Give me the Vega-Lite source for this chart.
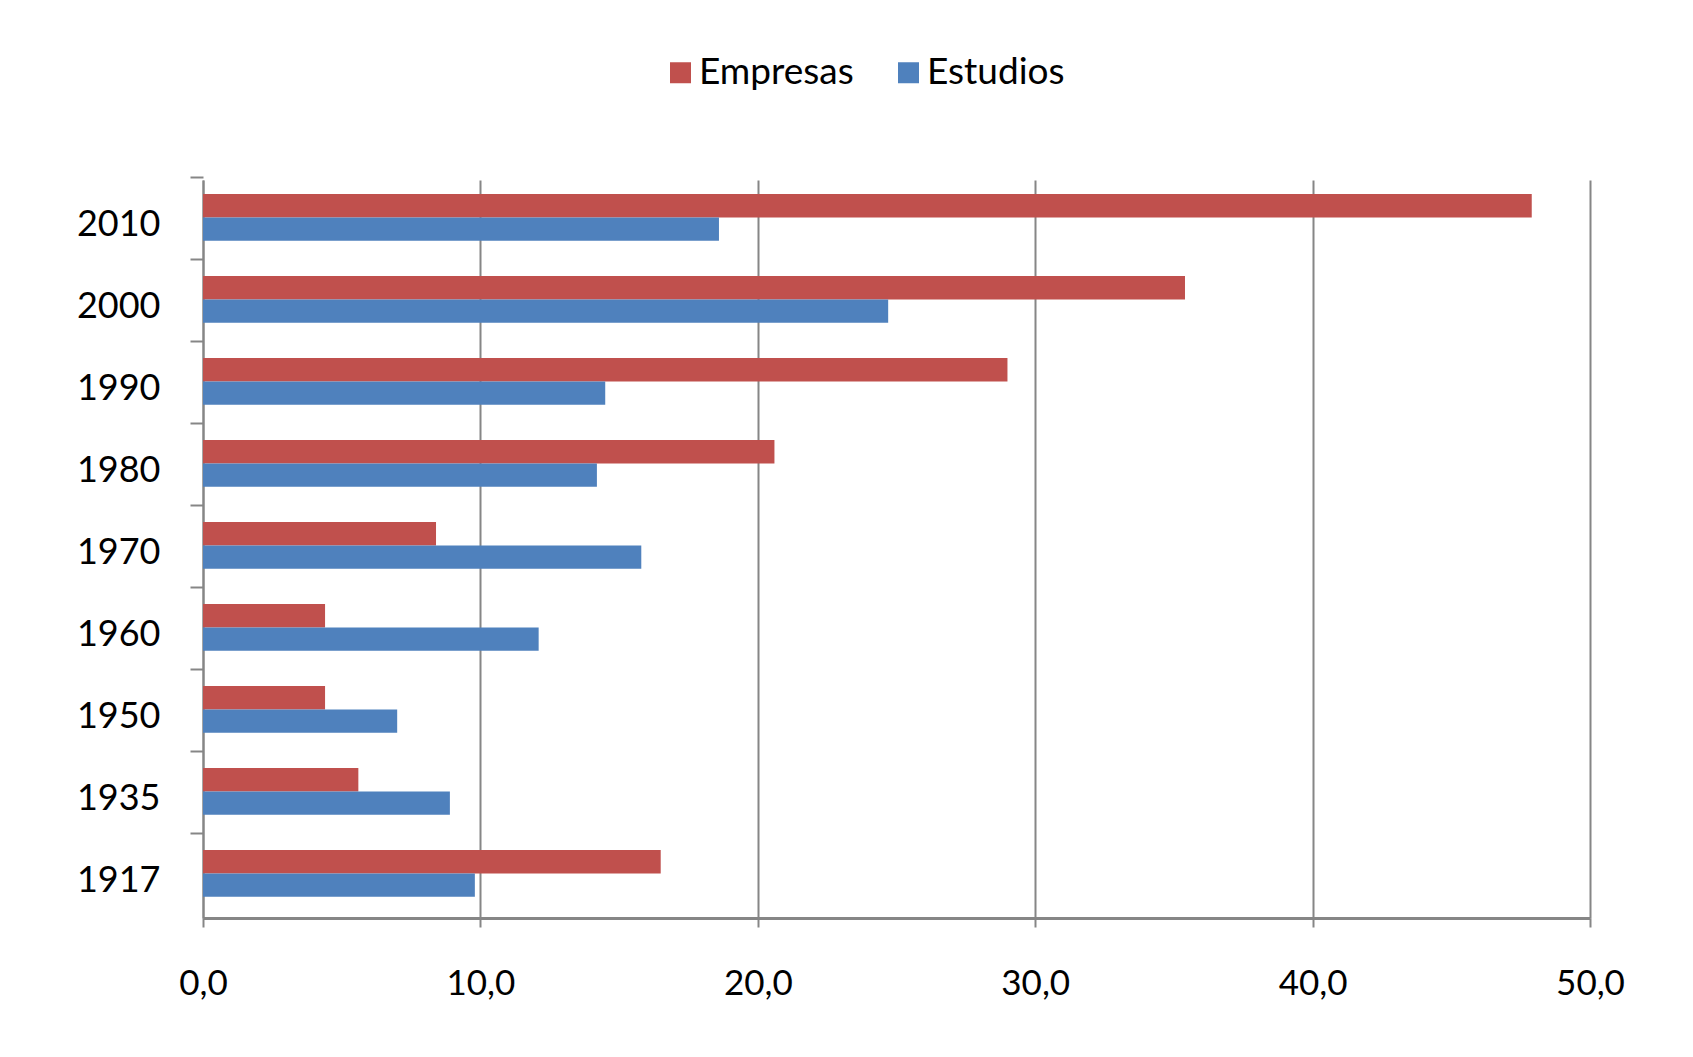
{
  "$schema": "https://vega.github.io/schema/vega-lite/v6.json",
  "autosize": {"type": "none"},
  "width": 1387,
  "height": 738,
  "padding": {"left": 203, "top": 180, "right": 103, "bottom": 139},
  "background": "white",
  "data": {"values": [
    {"year": "2010", "serie": "Empresas", "valor": 47.9},
    {"year": "2010", "serie": "Estudios", "valor": 18.6},
    {"year": "2000", "serie": "Empresas", "valor": 35.4},
    {"year": "2000", "serie": "Estudios", "valor": 24.7},
    {"year": "1990", "serie": "Empresas", "valor": 29.0},
    {"year": "1990", "serie": "Estudios", "valor": 14.5},
    {"year": "1980", "serie": "Empresas", "valor": 20.6},
    {"year": "1980", "serie": "Estudios", "valor": 14.2},
    {"year": "1970", "serie": "Empresas", "valor": 8.4},
    {"year": "1970", "serie": "Estudios", "valor": 15.8},
    {"year": "1960", "serie": "Empresas", "valor": 4.4},
    {"year": "1960", "serie": "Estudios", "valor": 12.1},
    {"year": "1950", "serie": "Empresas", "valor": 4.4},
    {"year": "1950", "serie": "Estudios", "valor": 7.0},
    {"year": "1935", "serie": "Empresas", "valor": 5.6},
    {"year": "1935", "serie": "Estudios", "valor": 8.9},
    {"year": "1917", "serie": "Empresas", "valor": 16.5},
    {"year": "1917", "serie": "Estudios", "valor": 9.8}
  ]},
  "mark": {"type": "bar", "stroke": null},
  "encoding": {
    "y": {
      "field": "year", "type": "nominal",
      "sort": ["2010", "2000", "1990", "1980", "1970", "1960", "1950", "1935", "1917"],
      "scale": {"paddingInner": 0.43, "paddingOuter": 0.215, "align": 0.4},
      "axis": {
        "title": null,
        "bandPosition": 0,
        "tickOffset": -17.6,
        "labelOffset": 25,
        "labelFont": "Lato", "labelFontSize": 36, "labelColor": "#000000",
        "labelPadding": 30,
        "tickSize": 13, "tickColor": "#868686", "tickWidth": 2,
        "domainColor": "#868686", "domainWidth": 2,
        "grid": false
      }
    },
    "x": {
      "field": "valor", "type": "quantitative",
      "scale": {"domain": [0, 50], "nice": false},
      "axis": {
        "title": null,
        "values": [0, 10, 20, 30, 40, 50],
        "labelExpr": "replace(format(datum.value, '.1f'), '.', ',')",
        "labelFlush": false,
        "labelFont": "Lato", "labelFontSize": 35, "labelColor": "#000000",
        "labelPadding": 39,
        "tickSize": 9, "tickColor": "#868686", "tickWidth": 2,
        "domainColor": "#868686", "domainWidth": 3,
        "grid": true, "gridColor": "#868686", "gridWidth": 2
      }
    },
    "yOffset": {"field": "serie", "type": "nominal", "sort": ["Empresas", "Estudios"], "scale": {"paddingInner": 0, "paddingOuter": 0}},
    "color": {
      "field": "serie", "type": "nominal",
      "scale": {"domain": ["Empresas", "Estudios"], "range": ["#C0504D", "#4F81BD"]},
      "legend": {
        "title": null,
        "orient": "none",
        "direction": "horizontal",
        "legendX": 459,
        "legendY": -126,
        "symbolType": "square",
        "symbolSize": 441,
        "symbolStrokeWidth": 0,
        "labelFont": "Lato", "labelFontSize": 37, "labelColor": "#000000",
        "labelOffset": 0,
        "columnPadding": 36
      }
    }
  },
  "config": {"view": {"stroke": null}}
}
